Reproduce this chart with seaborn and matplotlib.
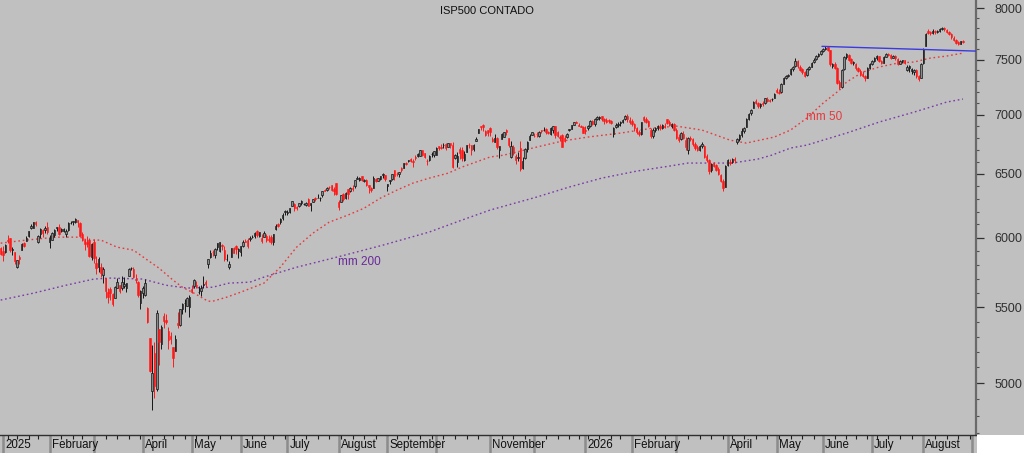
import numpy as np
import pandas as pd
import matplotlib
matplotlib.use("Agg")
import matplotlib.pyplot as plt
import seaborn as sns
from matplotlib.ticker import FixedLocator, FixedFormatter, NullFormatter
from matplotlib.patches import Rectangle
import matplotlib.transforms as mtransforms

# ---------------- calendar (US trading days) ----------------
calendar_start = "2024-12-31"
calendar_end = "2026-09-01"
holidays = ["2025-01-01", "2025-01-09", "2025-01-20", "2025-02-17", "2025-04-18",
            "2025-05-26", "2025-06-19", "2025-07-04", "2025-09-01", "2025-11-27",
            "2025-12-25", "2026-01-01", "2026-01-19", "2026-02-16", "2026-04-03",
            "2026-05-25", "2026-06-19", "2026-07-03"]

# ---------------- daily OHLC (Dec 31 2024 -> Aug 26 2026) ----------------
opens = [
    5920,
    5903,5892,5982,5994,5910,5890,5782,5859,5906,5960,5977,6015,6070,6076,6121,5970,6027,6058,6055,6082,
    5970,5986,6021,6073,6083,6047,6050,6026,6061,6115,6121,6117,6135,6114,6027,5983,5970,5981,5856,
    5969,5812,5782,5785,5726,5705,5603,5624,5594,5563,5635,5654,5633,5647,5630,5719,5776,5772,5696,5679,5527,
    5597,5581,5492,5292,4953,5194,4965,5353,5255,5441,5411,5335,5306,5232,5207,5395,5381,5489,5529,5508,5499,
    5626,5645,5655,5606,5614,5655,5679,5807,5854,5895,5869,5929,5903,5944,5911,5842,5782,5855,5926,5939,5903,
    5896,5939,5978,5985,5987,6005,6009,6049,6010,6000,6004,6012,5987,6004,5969,6062,6105,6118,6150,6194,
    6187,6193,6246,6259,6236,6240,6266,6255,6254,6297,6250,6272,6305,6305,6307,6326,6368,6370,6397,6409,6378,6427,
    6271,6272,6336,6309,6376,6360,6389,6398,6461,6453,6478,6445,6446,6406,6382,6386,6457,6441,6458,6487,6494,
    6401,6445,6456,6530,6499,6498,6550,6544,6590,6601,6623,6608,6636,6650,6648,6696,6668,6606,6615,6661,6657,
    6656,6731,6723,6740,6747,6723,6753,6740,6627,6595,6701,6696,6615,6684,6736,6738,6703,6776,6843,6897,6910,6858,6869,
    6880,6791,6767,6795,6694,6789,6810,6870,6801,6640,6720,6649,6628,6710,6548,6628,6706,6780,6823,
    6813,6831,6815,6866,6866,6872,6846,6836,6866,6899,6850,6808,6822,6800,6803,6865,6875,6913,6933,6911,6905,6895,
    6870,6880,6905,6945,6915,6960,6970,6985,6960,6950,6955,6945,6830,6895,6910,6925,6940,6965,6990,6955,
    6945,6920,6885,6850,6835,6975,6960,6945,6870,6815,6870,6885,6900,6880,6905,6960,6935,6905,6915,
    6870,6810,6790,6835,6780,6700,6795,6790,6745,6720,6700,6730,6730,6645,6610,6530,6585,6570,6540,6490,6440,6395,
    6570,6600,6595,6620,6760,6790,6820,6860,6895,6965,7010,7060,7120,7105,7080,7100,7100,7140,7130,7135,7150,
    7215,7205,7200,7275,7330,7350,7365,7410,7440,7485,7430,7410,7380,7355,7410,7435,7475,7505,7530,7555,
    7580,7600,7615,7590,7440,7460,7420,7290,7250,7410,7520,7545,7505,7470,7460,7420,7395,7370,7350,7330,7420,
    7460,7490,7510,7530,7485,7470,7525,7550,7540,7515,7535,7505,7460,7485,7495,7400,7420,7390,7380,7400,7345,7330,
    7465,7630,7770,7760,7750,7775,7760,7775,7790,7800,7785,7765,7740,7710,7685,7665,7650,7675,
]
highs = [
    5929,
    5936,5950,6021,6001,5927,5890,5838,5871,5960,5964,6011,6051,6100,6119,6129,6018,6070,6064,6087,6120,
    6022,6043,6062,6084,6101,6074,6076,6064,6117,6127,6129,6147,6135,6119,6044,5993,6009,5994,5959,
    5987,5866,5860,5812,5783,5705,5636,5642,5598,5645,5703,5654,5716,5713,5670,5775,5787,5783,5732,5685,5620,
    5651,5696,5500,5292,5246,5267,5481,5353,5381,5459,5450,5367,5329,5232,5309,5469,5489,5528,5553,5571,5581,
    5658,5700,5684,5648,5654,5721,5691,5845,5906,5906,5924,5959,5968,5954,5939,5878,5829,5922,5929,5943,5923,
    5937,5981,5991,5999,6016,6022,6043,6059,6046,6026,6051,6024,6018,6018,6025,6102,6108,6146,6187,6215,
    6211,6227,6285,6263,6243,6269,6291,6269,6272,6302,6266,6299,6316,6336,6310,6359,6381,6390,6401,6410,6390,6428,
    6287,6330,6345,6352,6379,6395,6407,6446,6480,6474,6481,6459,6456,6407,6393,6481,6466,6466,6483,6508,6494,
    6416,6449,6502,6532,6511,6513,6555,6592,6600,6616,6627,6625,6656,6672,6698,6698,6673,6623,6652,6679,6689,
    6718,6731,6750,6754,6752,6757,6755,6765,6667,6678,6726,6724,6690,6740,6752,6740,6749,6807,6877,6900,6920,6863,6869,
    6890,6807,6828,6805,6731,6841,6848,6874,6802,6775,6736,6664,6683,6770,6641,6715,6776,6830,6850,
    6844,6851,6862,6867,6895,6880,6862,6895,6904,6901,6856,6820,6828,6827,6840,6879,6911,6933,6945,6923,6913,6898,
    6900,6910,6950,6955,6970,6985,6990,6990,6968,6972,6965,6950,6890,6925,6935,6945,6965,7000,7002,6975,
    6960,6925,6895,6870,6940,6990,6975,6955,6880,6880,6895,6910,6915,6920,6925,6965,6955,6930,6925,
    6880,6830,6850,6860,6810,6810,6815,6800,6760,6735,6740,6765,6735,6660,6620,6590,6600,6580,6555,6500,6455,6570,
    6625,6620,6630,6640,6800,6830,6880,6895,6970,7015,7050,7125,7135,7115,7100,7125,7150,7155,7140,7150,7195,
    7235,7225,7280,7340,7360,7370,7420,7440,7515,7495,7445,7425,7390,7420,7440,7480,7510,7540,7560,7590,
    7610,7625,7620,7595,7470,7480,7430,7310,7410,7530,7560,7550,7515,7490,7465,7435,7410,7390,7360,7430,7470,
    7500,7520,7545,7535,7495,7530,7560,7565,7550,7545,7545,7510,7495,7500,7500,7450,7450,7420,7410,7410,7360,7470,
    7610,7750,7790,7775,7790,7785,7785,7800,7815,7810,7790,7770,7750,7720,7695,7675,7680,7685,
]
lows = [
    5868,
    5829,5888,5960,5890,5874,5809,5773,5805,5906,5930,5974,6007,6064,6071,6089,5962,5995,6007,6035,6030,
    5923,5982,6007,6050,6020,6046,6044,6003,6051,6107,6099,6111,6080,6009,5974,5909,5933,5858,5837,
    5810,5732,5744,5711,5667,5565,5529,5546,5505,5563,5632,5597,5622,5635,5603,5719,5764,5703,5671,5572,5489,
    5560,5578,5390,5069,4835,4910,4950,5115,5220,5358,5387,5220,5255,5101,5207,5356,5372,5455,5468,5506,5433,
    5597,5631,5635,5593,5579,5630,5643,5776,5848,5867,5851,5908,5895,5910,5830,5825,5768,5855,5886,5876,5848,
    5862,5929,5966,5921,5978,5994,6001,6003,6004,5963,6004,5969,5971,5953,5943,6059,6081,6105,6132,6174,
    6172,6187,6240,6201,6211,6235,6251,6249,6245,6243,6202,6271,6283,6303,6282,6317,6361,6363,6379,6362,6332,6327,
    6213,6272,6284,6301,6301,6357,6364,6386,6458,6441,6441,6436,6400,6343,6350,6386,6436,6438,6450,6466,6445,
    6360,6419,6446,6453,6482,6477,6516,6544,6572,6599,6599,6552,6617,6642,6647,6643,6626,6570,6609,6642,6641,
    6651,6693,6705,6714,6700,6721,6717,6550,6620,6552,6625,6605,6603,6684,6711,6658,6690,6771,6843,6868,6856,6817,6812,
    6812,6761,6761,6708,6631,6789,6808,6826,6720,6631,6653,6582,6602,6521,6537,6618,6680,6779,6823,
    6810,6803,6808,6839,6858,6835,6832,6822,6841,6802,6805,6775,6719,6765,6795,6854,6874,6909,6924,6897,6892,6845,
    6830,6865,6895,6910,6905,6950,6950,6945,6920,6930,6930,6920,6805,6880,6895,6905,6925,6955,6940,6920,
    6900,6860,6830,6815,6825,6940,6925,6895,6800,6795,6850,6870,6870,6875,6880,6915,6900,6880,6860,
    6790,6760,6780,6790,6700,6660,6770,6730,6700,6690,6690,6715,6630,6600,6500,6515,6555,6525,6490,6430,6360,6390,
    6560,6570,6585,6590,6745,6775,6810,6845,6890,6955,7000,7055,7090,7060,7055,7080,7095,7115,7110,7125,7145,
    7190,7180,7195,7270,7320,7335,7355,7395,7430,7425,7395,7370,7335,7345,7400,7430,7465,7495,7520,7545,
    7570,7590,7585,7440,7420,7410,7270,7230,7240,7400,7505,7490,7455,7450,7400,7380,7350,7335,7300,7325,7410,
    7450,7480,7500,7475,7460,7465,7520,7530,7505,7510,7500,7450,7455,7470,7460,7390,7380,7370,7360,7330,7300,7325,
    7460,7625,7740,7735,7745,7740,7750,7765,7785,7770,7755,7730,7700,7680,7650,7640,7645,7655,
]
closes = [
    5882,
    5869,5942,5975,5909,5918,5827,5836,5843,5950,5937,5997,6049,6086,6119,6101,6012,6068,6039,6071,6041,
    5994,6038,6061,6084,6026,6066,6069,6052,6115,6115,6129,6144,6118,6013,5983,5956,5956,5861,5955,
    5850,5778,5843,5739,5770,5615,5572,5599,5522,5639,5675,5615,5675,5663,5668,5768,5777,5712,5693,5581,5612,
    5633,5671,5397,5074,5062,4983,5457,5268,5363,5406,5397,5276,5283,5158,5288,5376,5485,5525,5529,5561,5569,
    5604,5687,5650,5607,5631,5664,5660,5844,5886,5892,5917,5958,5964,5940,5845,5842,5802,5922,5889,5912,5912,
    5936,5970,5971,5939,6000,6006,6038,6022,6045,5977,6033,5982,5981,5967,6025,6092,6092,6141,6173,6205,
    6198,6227,6279,6230,6226,6263,6280,6260,6269,6244,6264,6297,6297,6306,6309,6359,6363,6389,6390,6371,6362,6339,
    6238,6330,6299,6345,6340,6389,6374,6446,6466,6469,6450,6449,6411,6396,6370,6467,6439,6465,6481,6502,6460,
    6416,6448,6502,6482,6495,6512,6532,6588,6584,6615,6607,6600,6632,6664,6693,6657,6638,6605,6644,6661,6688,
    6711,6715,6716,6740,6714,6753,6735,6553,6655,6644,6671,6630,6664,6735,6735,6699,6738,6791,6875,6891,6890,6822,6840,
    6852,6771,6796,6720,6728,6832,6846,6851,6737,6734,6672,6617,6642,6538,6603,6705,6766,6813,6849,
    6812,6829,6850,6857,6870,6846,6840,6887,6901,6827,6816,6800,6721,6775,6835,6878,6910,6932,6930,6905,6896,6845,
    6860,6900,6945,6920,6965,6975,6978,6960,6945,6940,6945,6930,6880,6910,6920,6935,6955,6985,6960,6940,
    6915,6880,6850,6830,6935,6950,6940,6905,6815,6870,6885,6900,6880,6910,6895,6925,6910,6920,6870,
    6800,6785,6840,6800,6720,6800,6790,6745,6715,6700,6730,6750,6640,6610,6525,6580,6565,6535,6500,6440,6385,6560,
    6610,6590,6620,6610,6790,6820,6860,6885,6960,7005,7040,7115,7100,7075,7090,7095,7145,7125,7120,7135,7185,
    7200,7190,7270,7330,7345,7360,7410,7430,7490,7440,7405,7385,7350,7410,7430,7470,7500,7530,7550,7580,
    7600,7610,7595,7455,7460,7425,7285,7250,7400,7520,7550,7500,7465,7475,7420,7390,7360,7345,7330,7420,7460,
    7490,7510,7535,7485,7470,7525,7550,7540,7515,7535,7510,7460,7485,7495,7470,7435,7440,7410,7400,7345,7320,7460,
    7600,7740,7755,7750,7775,7760,7775,7790,7805,7790,7765,7745,7715,7690,7660,7650,7675,7665,
]

# ---------------- moving averages (trading-day index, value) ----------------
mm50_day = [0, 11, 24, 34, 37, 43, 50, 57, 63, 68, 74, 78, 83, 89, 91, 97, 103, 113, 120, 127,
            134, 141, 149, 156, 163, 170, 177, 184, 192, 198, 210, 216, 230, 241, 252, 266, 280,
            290, 301, 313, 320, 332, 339, 346, 353, 360, 363, 370, 377, 385, 392, 399, 406, 413]
mm50_value = [5959, 5982, 6004, 6004, 5982, 5982, 5929, 5907, 5834, 5775, 5689, 5639, 5597, 5541,
              5541, 5569, 5604, 5668, 5782, 5929, 6034, 6118, 6172, 6226, 6305, 6368, 6425, 6465,
              6505, 6555, 6638, 6654, 6721, 6772, 6806, 6840, 6883, 6900, 6866, 6780, 6755, 6806,
              6866, 6970, 7102, 7218, 7291, 7383, 7430, 7467, 7477, 7514, 7533, 7561]
mm200_day = [0, 14, 28, 40, 47, 61, 71, 80, 91, 98, 107, 113, 127, 146, 164, 184, 198, 210, 230,
             244, 258, 273, 287, 295, 303, 314, 325, 331, 339, 346, 353, 363, 377, 392, 399, 406, 413]
mm200_value = [5549, 5597, 5653, 5697, 5704, 5697, 5653, 5633, 5639, 5668, 5675, 5711, 5782, 5863,
               5944, 6043, 6134, 6211, 6313, 6393, 6465, 6522, 6563, 6588, 6588, 6588, 6621, 6654,
               6713, 6738, 6780, 6840, 6935, 7022, 7066, 7111, 7138]

# horizontal resistance line
resistance_day = [352.5, 418.6]
resistance_value = [7625, 7580]

y_major = [5000, 5500, 6000, 6500, 7000, 7500, 8000]
month_labels = ["2025", "February", "", "April", "May", "June", "July", "August", "September",
                "", "November", "", "2026", "February", "", "April", "May", "June", "July",
                "August", ""]

BG = "#c0c0c0"

# ---------------- figure ----------------
sns.set_theme(style="white")
plt.rcParams["font.family"] = ["Liberation Sans", "DejaVu Sans"]

fig = plt.figure(figsize=(10.24, 4.53), dpi=100, facecolor=BG)
ax = fig.add_axes([0, 18 / 453, 976 / 1024, 435 / 453])
ax.set_facecolor(BG)

# calendar
days = pd.bdate_range(calendar_start, calendar_end)
days = days[~days.isin(pd.to_datetime(holidays))]

n = min(len(opens), len(highs), len(lows), len(closes))
o = np.array(opens[:n], float)
h = np.array(highs[:n], float)
l = np.array(lows[:n], float)
c = np.array(closes[:n], float)
x = np.arange(n)
up = c >= o
dn = ~up

ax.set_yscale("log")

# wicks
ax.vlines(x[up], l[up], h[up], color="#151515", lw=0.7, zorder=3)
ax.vlines(x[dn], l[dn], h[dn], color="#ff1a1a", lw=0.7, zorder=3)
# bodies
body_lo = np.minimum(o, c)
body_h = np.abs(c - o)
ax.bar(x[up], body_h[up], bottom=body_lo[up], width=0.62, facecolor="#8a8a8a",
       edgecolor="#151515", lw=0.5, zorder=4)
ax.bar(x[dn], body_h[dn], bottom=body_lo[dn], width=0.62, facecolor="#ff1a1a",
       edgecolor="#ff1a1a", lw=0.4, zorder=4)

# moving averages
sns.lineplot(x=mm50_day, y=mm50_value, ax=ax, color="#e8383c", linewidth=1.0,
             linestyle=(0, (1.2, 2.0)), sort=False, estimator=None, zorder=2)
sns.lineplot(x=mm200_day, y=mm200_value, ax=ax, color="#7a3aa8", linewidth=1.0,
             linestyle=(0, (1.2, 2.0)), sort=False, estimator=None, zorder=2)
sns.lineplot(x=resistance_day, y=resistance_value, ax=ax, color="#3a3ae0", linewidth=1.0,
             sort=False, estimator=None, zorder=5)

ax.text(345.5, 6978, "mm 50", color="#e8383c", fontsize=8.5, ha="left", va="center", zorder=6)
ax.text(144.8, 5819, "mm 200", color="#6a2a9a", fontsize=8.5, ha="left", va="center", zorder=6)

# limits
ax.set_xlim(-0.29, 418.6)
ax.set_ylim(4686, 8081)

# y axis on the right
ax.yaxis.tick_right()
ax.yaxis.set_major_locator(FixedLocator(y_major))
ax.yaxis.set_major_formatter(FixedFormatter([str(v) for v in y_major]))
y_minor = [v for v in range(4700, 8001, 100) if v not in y_major]
ax.yaxis.set_minor_locator(FixedLocator(y_minor))
ax.yaxis.set_minor_formatter(NullFormatter())
ax.tick_params(axis="y", which="major", direction="out", length=5.5, width=0.9,
               pad=8, labelsize=9, colors="#303030", right=True, left=False)
ax.tick_params(axis="y", which="minor", direction="out", length=2.5, width=0.8,
               colors="#505050", right=True, left=False)

# x axis: month ticks and weekly ticks
month_idx = [i for i in range(1, len(days)) if days[i].month != days[i - 1].month]
week_idx = [i for i in range(1, len(days))
            if days[i].weekday() < days[i - 1].weekday() and i not in month_idx]
ax.xaxis.set_major_locator(FixedLocator(month_idx))
ax.xaxis.set_major_formatter(NullFormatter())
ax.xaxis.set_minor_locator(FixedLocator(week_idx))
ax.xaxis.set_minor_formatter(NullFormatter())
ax.tick_params(axis="x", which="major", direction="out", length=13, width=1.8,
               colors="#8c8c8c", bottom=True)
ax.tick_params(axis="x", which="minor", direction="out", length=2.8, width=0.8,
               colors="#202020", bottom=True)

trans = mtransforms.blended_transform_factory(ax.transData, ax.transAxes)
for idx, lab in zip(month_idx, month_labels):
    if lab:
        ax.text(idx + 0.9, -10 / 435, lab, transform=trans, ha="left", va="center",
                fontsize=8.3, color="#101010", clip_on=False)

for side in ["left", "top"]:
    ax.spines[side].set_visible(False)
ax.spines["bottom"].set_color("#303030")
ax.spines["bottom"].set_linewidth(1.0)
ax.spines["right"].set_color("#6a6a6a")
ax.spines["right"].set_linewidth(1.6)

ax.grid(False)

# title
fig.text(487 / 1024, 1 - 11 / 453, "ISP500 CONTADO", ha="center", va="center",
         fontsize=8, color="#101010")

# white corner below the price scale
fig.patches.append(Rectangle((976.5 / 1024, 0), 1 - 976.5 / 1024, 18 / 453,
                             transform=fig.transFigure, facecolor="white",
                             edgecolor="none", zorder=10))

fig.savefig("out.png", dpi=100, facecolor=BG)
